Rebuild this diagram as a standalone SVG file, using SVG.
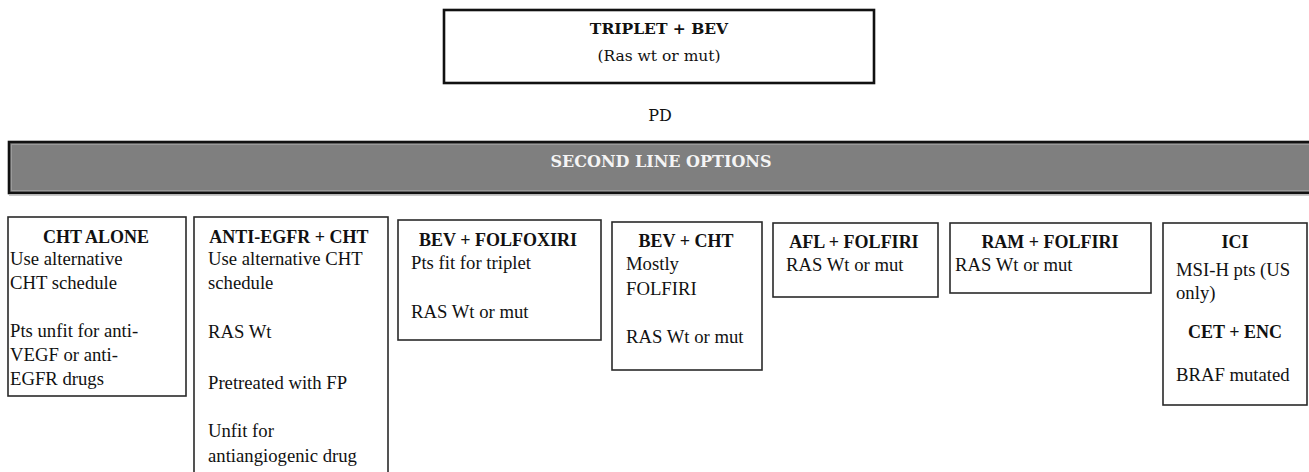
<svg xmlns="http://www.w3.org/2000/svg" width="1309" height="472" viewBox="0 0 1309 472">
<style>
  .box { fill: #ffffff; stroke: #2a2a2a; stroke-width: 1.6; }
  .top { fill: #ffffff; stroke: #111111; stroke-width: 2.6; }
  .t { font-family: "Liberation Serif", "Times New Roman", serif; font-size: 18.7px; fill: #111111; }
  .h { font-family: "Liberation Serif", "Times New Roman", serif; font-size: 18px; font-weight: bold; fill: #111111; text-anchor: middle; }
  .c { font-family: "DejaVu Serif", "Liberation Serif", serif; fill: #111111; text-anchor: middle; }
</style>
<rect width="1309" height="472" fill="#ffffff"/>
<g id="connectors"/>
<g id="node-top">
  <rect class="top" x="444" y="10" width="430" height="73"/>
  <text class="c" x="659" y="34" font-size="15.5" font-weight="bold">TRIPLET + BEV</text>
  <text class="c" x="659" y="61" font-size="15.5">(Ras wt or mut)</text>
</g>
<g id="node-pd">
  <text class="c" x="660" y="121" font-size="16">PD</text>
</g>
<g id="node-second-line">
  <rect x="9" y="142" width="1310" height="51" fill="#7f7f7f" stroke="#111111" stroke-width="2.6"/>
  <rect x="11.5" y="144.5" width="1310" height="46" fill="none" stroke="#9a9a9a" stroke-width="1"/>
  <line x1="9" y1="195.5" x2="1309" y2="195.5" stroke="#c8c8c8" stroke-width="1.2"/>
  <text class="c" x="661" y="167" font-size="16" font-weight="bold" style="fill:#f4f4f4">SECOND LINE OPTIONS</text>
</g>
<g id="node-cht-alone">
  <rect class="box" x="8" y="217" width="178" height="179"/>
  <text class="h" x="96" y="243">CHT ALONE</text>
  <text class="t" x="10" y="265">Use alternative</text>
  <text class="t" x="10" y="289">CHT schedule</text>
  <text class="t" x="10" y="337">Pts unfit for anti-</text>
  <text class="t" x="10" y="361">VEGF or anti-</text>
  <text class="t" x="10" y="385">EGFR drugs</text>
</g>
<g id="node-anti-egfr">
  <rect class="box" x="194" y="217" width="194" height="270"/>
  <text class="h" x="289" y="243">ANTI-EGFR + CHT</text>
  <text class="t" x="208" y="265">Use alternative CHT</text>
  <text class="t" x="208" y="289">schedule</text>
  <text class="t" x="208" y="338">RAS Wt</text>
  <text class="t" x="208" y="389">Pretreated with FP</text>
  <text class="t" x="208" y="437">Unfit for</text>
  <text class="t" x="208" y="462">antiangiogenic drug</text>
</g>
<g id="node-bev-folfoxiri">
  <rect class="box" x="398" y="220" width="203" height="120"/>
  <text class="h" x="498" y="246">BEV + FOLFOXIRI</text>
  <text class="t" x="411" y="269">Pts fit for triplet</text>
  <text class="t" x="411" y="318">RAS Wt or mut</text>
</g>
<g id="node-bev-cht">
  <rect class="box" x="612" y="222" width="150" height="148"/>
  <text class="h" x="686" y="247">BEV + CHT</text>
  <text class="t" x="626" y="270">Mostly</text>
  <text class="t" x="626" y="295">FOLFIRI</text>
  <text class="t" x="626" y="343">RAS Wt or mut</text>
</g>
<g id="node-afl-folfiri">
  <rect class="box" x="773" y="223" width="165" height="74"/>
  <text class="h" x="854" y="248">AFL + FOLFIRI</text>
  <text class="t" x="786" y="271">RAS Wt or mut</text>
</g>
<g id="node-ram-folfiri">
  <rect class="box" x="950" y="223" width="201" height="70"/>
  <text class="h" x="1050" y="248">RAM + FOLFIRI</text>
  <text class="t" x="955" y="271">RAS Wt or mut</text>
</g>
<g id="node-ici">
  <rect class="box" x="1163" y="223" width="144" height="182"/>
  <text class="h" x="1235" y="248">ICI</text>
  <text class="t" x="1176" y="276">MSI-H pts (US</text>
  <text class="t" x="1176" y="299">only)</text>
  <text class="h" x="1235" y="338">CET + ENC</text>
  <text class="t" x="1176" y="381">BRAF mutated</text>
</g>
</svg>
